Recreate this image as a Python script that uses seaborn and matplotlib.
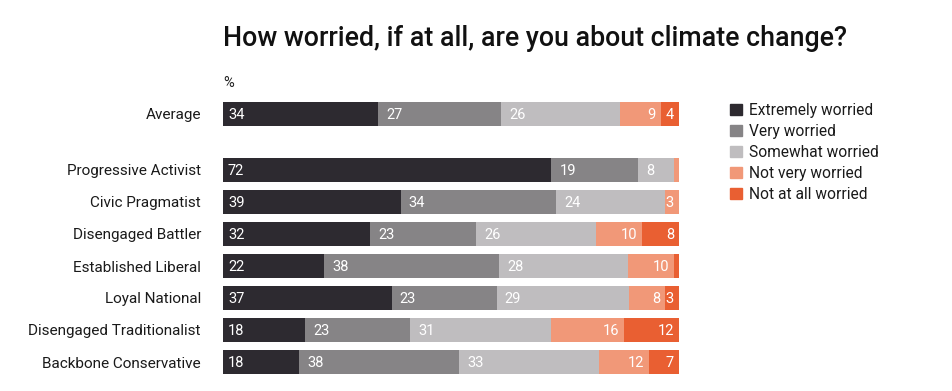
import numpy as np
import pandas as pd
import seaborn as sns
import matplotlib.pyplot as plt

sns.set_style('white')
plt.rcParams['font.family'] = ['Roboto', 'DejaVu Sans']

# Données
groups = ['Average', 'Progressive Activist', 'Civic Pragmatist', 'Disengaged Battler',
          'Established Liberal', 'Loyal National', 'Disengaged Traditionalist',
          'Backbone Conservative']
levels = ['Extremely worried', 'Very worried', 'Somewhat worried',
          'Not very worried', 'Not at all worried']
extremely = [34, 72, 39, 32, 22, 37, 18, 18]
very = [27, 19, 34, 23, 38, 23, 23, 38]
somewhat = [26, 8, 24, 26, 28, 29, 31, 33]
not_very = [9, 1, 3, 10, 10, 8, 16, 12]
not_at_all = [4, 0, 0, 8, 1, 3, 12, 7]
colors = ['#2d2a30', '#868486', '#bfbdbf', '#f19878', '#e95f32']

# positions verticales : un écart après "Average"
pos = [0] + [1.75 + i for i in range(len(groups) - 1)]

vals = np.array([extremely, very, somewhat, not_very, not_at_all], dtype=float)
pct = vals / vals.sum(axis=0) * 100
cum = np.cumsum(pct, axis=0)

fig = plt.figure(figsize=(9.53, 3.91), dpi=100)
ax = fig.add_axes([223 / 953, 1 - 378 / 391, 456 / 953, 280 / 391])

# barres empilées : on dessine les cumuls du plus grand au plus petit
for k in range(len(levels) - 1, -1, -1):
    df = pd.DataFrame({'x': cum[k], 'y': pos})
    sns.barplot(data=df, x='x', y='y', orient='h', native_scale=True,
                color=colors[k], width=0.75, errorbar=None, saturation=1,
                linewidth=0, ax=ax)

# étiquettes des valeurs
for k in range(len(levels)):
    for i, p in enumerate(pos):
        v = vals[k, i]
        if v < 2:
            continue
        start = cum[k, i] - pct[k, i]
        end = cum[k, i]
        if k < 3:
            off = 5 if k == 0 else 8
            ax.annotate(f'{int(v)}', (start, p), xytext=(off * 0.72, -0.5),
                        textcoords='offset points', ha='left', va='center',
                        color='white', fontsize=10.5)
        else:
            ax.annotate(f'{int(v)}', (end, p), xytext=(-5 * 0.72, -0.5),
                        textcoords='offset points', ha='right', va='center',
                        color='white', fontsize=10.5)

ax.set_xlim(0, 100)
ax.set_ylim(8.25, -0.5)
ax.set_yticks(pos)
ax.set_yticklabels(groups, fontsize=11, color='#1a1a1a')
ax.tick_params(axis='y', length=0, pad=22 * 0.72)
ax.set_xticks([])
ax.set_xlabel('')
ax.set_ylabel('')
sns.despine(ax=ax, left=True, bottom=True)

# légende
handles = [plt.Rectangle((0, 0), 1, 1, color=c) for c in colors]
fig.legend(handles, levels, loc='upper left', bbox_to_anchor=(724 / 953, 1 - 97 / 391),
           frameon=False, handlelength=0.75, handleheight=0.75,
           handletextpad=0.45, labelspacing=0.38, borderaxespad=0,
           prop={'size': 11.2}, labelcolor='#1a1a1a')

fig.text(223 / 953, 1 - 38 / 391, 'How worried, if at all, are you about climate change?',
         fontsize=19.3, fontweight='medium', va='center', ha='left', color='#111111')
fig.text(223 / 953, 1 - 83 / 391, '%', fontsize=10.5,
         va='center', ha='left', color='#222222')

fig.savefig('out.png', dpi=100)
